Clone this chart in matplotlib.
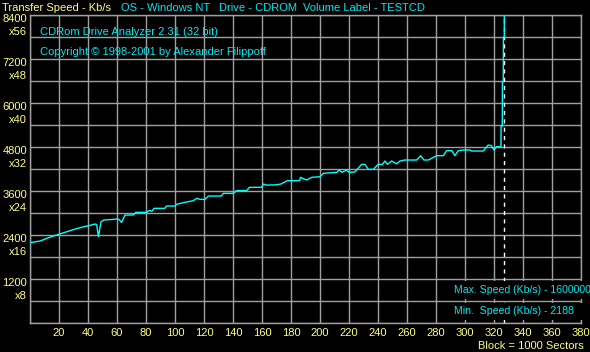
import matplotlib
matplotlib.use("Agg")
import matplotlib.pyplot as plt
import matplotlib.transforms as mtransforms
from matplotlib.patches import Rectangle

# CD-ROM transfer speed test (Kb/s) vs block number (1 block = 1000 sectors)
blocks = [0, 7, 13.5, 20.5, 27.5, 34.5, 41.5, 45, 46, 47.2, 49, 51, 61, 63.2, 65.5,
          71.3, 73, 80.5, 82.3, 84, 85.5, 93, 94, 100, 101, 105.7, 112.6, 115,
          117.5, 120.7, 123, 132, 133.3, 140.2, 142.5, 149.4, 151.3, 159.7, 161,
          163, 170, 173, 177.5, 186, 186.5, 190.8, 194.3, 200, 202.3, 211.5,
          213.3, 215, 218.4, 220, 224, 228.7, 231, 233.3, 236.7, 240.2, 243,
          244.8, 246.5, 249.4, 252.9, 255.2, 258.6, 266.7, 269.4, 271.7, 274.7,
          280.5, 285, 287.4, 291, 293, 295.4, 298.9, 303.5, 304.6, 312.6, 316,
          318, 320, 321.8, 324.8, 324.9, 325.7, 325.8, 326.4, 326.5, 327.1, 327.2]
speed = [2190, 2236, 2337, 2427, 2517, 2600, 2664, 2700, 2680, 2354, 2763, 2809,
         2836, 2745, 2945, 2945, 3018, 3018, 3073, 3045, 3127, 3127, 3190, 3190,
         3236, 3281, 3336, 3400, 3372, 3372, 3463, 3463, 3536, 3536, 3609, 3609,
         3700, 3700, 3790, 3760, 3770, 3790, 3881, 3881, 3972, 3899, 3972, 3990,
         4082, 4109, 4172, 4109, 4172, 4109, 4118, 4327, 4327, 4190, 4190, 4327,
         4327, 4418, 4327, 4418, 4340, 4418, 4445, 4445, 4563, 4445, 4445, 4563,
         4563, 4700, 4700, 4563, 4700, 4718, 4718, 4690, 4690, 4854, 4840, 4718,
         4809, 4809, 5372, 5372, 6581, 6581, 7790, 7790, 16000]

y_ticks = [1200, 2400, 3600, 4800, 6000, 7200, 8400]
y_mult = ["x8", "x16", "x24", "x32", "x40", "x48", "x56"]
x_ticks = list(range(20, 381, 20))
end_block = 326.9
max_speed = 1600000
min_speed = 2188

W, H = 590, 352
YEL = "#FFFF80"
CYAN = "#00E8F0"
GRID = "#A0A0A0"
FS = 8.0

plt.rcParams["font.family"] = ["Liberation Sans", "DejaVu Sans"]

fig = plt.figure(figsize=(W / 100, H / 100), dpi=100, facecolor="black")
ax = fig.add_axes([30 / W, (H - 323) / H, (581 - 30) / W, (323 - 15) / H])
ax.set_facecolor("black")
ax.set_xlim(0, 380)
ax.set_ylim(0, 8400)
ax.set_xticks(range(0, 381, 20))
ax.set_yticks(range(0, 8401, 600))
ax.tick_params(length=0, labelbottom=False, labelleft=False)
ax.grid(True, color=GRID, linewidth=1.0)
for s in ax.spines.values():
    s.set_color(GRID)
    s.set_linewidth(1.0)

ax.axvline(end_block, color="white", linewidth=1.0, linestyle=(0, (3, 3)), zorder=3)
ax.plot(blocks, speed, color="#00FFFF", linewidth=1.0, zorder=4)


def px(x, y):
    return x / W, 1 - y / H


# y labels: speed and CD multiplier
tr = mtransforms.blended_transform_factory(fig.transFigure, ax.transData)
off1 = mtransforms.offset_copy(tr, fig=fig, x=0, y=-4, units="dots")
off2 = mtransforms.offset_copy(tr, fig=fig, x=0, y=-17, units="dots")
for v, m in zip(y_ticks, y_mult):
    ax.text(27 / W, v, str(v), color=YEL, fontsize=FS, ha="right", va="center",
            transform=off1, clip_on=False)
    ax.text(27 / W, v, m, color=YEL, fontsize=FS, ha="right", va="center",
            transform=off2, clip_on=False)

# x labels
trx = mtransforms.blended_transform_factory(ax.transData, fig.transFigure)
for t in x_ticks:
    ax.text(t, 1 - 333 / H, str(t), color=YEL, fontsize=FS, ha="center", va="center",
            transform=trx, clip_on=False)

fig.text(*px(584, 346), "Block = 1000 Sectors", color=YEL, fontsize=FS,
         ha="right", va="center")

# header
fig.text(*px(2, 8), "Transfer Speed - Kb/s", color=YEL, fontsize=FS, va="center")
fig.text(*px(121, 8), "OS - Windows NT", color=CYAN, fontsize=FS, va="center")
fig.text(*px(219, 8), "Drive - CDROM", color=CYAN, fontsize=FS, va="center")
fig.text(*px(303, 8), "Volume Label - TESTCD", color=CYAN, fontsize=FS, va="center")

fig.text(*px(40, 32), "CDRom Drive Analyzer 2.31 (32 bit)", color=CYAN,
         fontsize=FS, va="center")
fig.text(*px(40, 52), "Copyright \u00a9 1998-2001 by Alexander Filippoff", color=CYAN,
         fontsize=FS, va="center")

# summary boxes
for y0, y1 in [(281, 299), (303, 320)]:
    fig.patches.append(Rectangle(px(452, y1), 138 / W, (y1 - y0) / H,
                                 transform=fig.transFigure, facecolor="black",
                                 edgecolor="none", zorder=5))
fig.text(*px(454, 290), "Max. Speed (Kb/s) - %d" % max_speed, color=CYAN,
         fontsize=7.6, va="center", zorder=6)
fig.text(*px(454, 311), "Min.  Speed (Kb/s) - %d" % min_speed, color=CYAN,
         fontsize=7.6, va="center", zorder=6)

fig.savefig("out.png", dpi=100, facecolor="black")
